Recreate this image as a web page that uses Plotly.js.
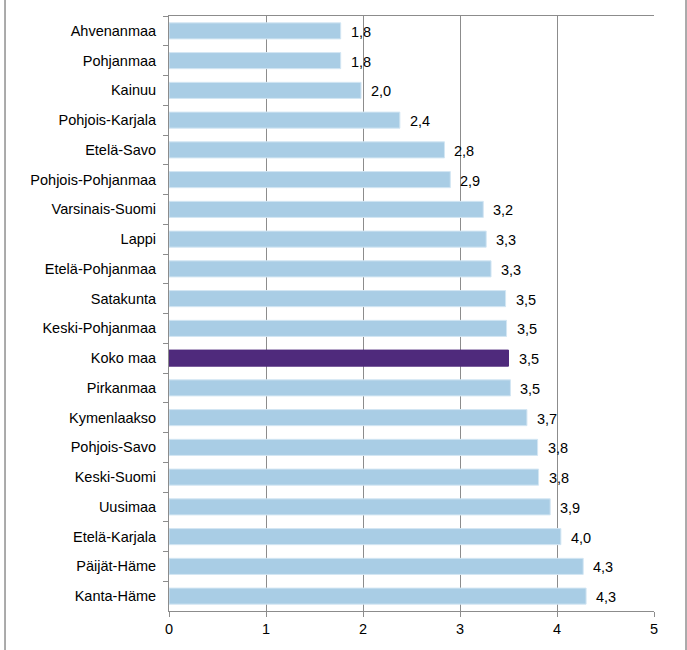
<!DOCTYPE html>
<html>
<head>
<meta charset="utf-8">
<script src="https://cdn.plot.ly/plotly-3.0.1.min.js"></script>
<style>
  html, body { margin: 0; padding: 0; background: #fff; }
  #chart { width: 687px; height: 650px; }
</style>
</head>
<body>
<div id="chart"></div>
<script>
// regions, top to bottom as in the picture
const regions = [
    'Ahvenanmaa', 'Pohjanmaa', 'Kainuu', 'Pohjois-Karjala', 'Etelä-Savo',
    'Pohjois-Pohjanmaa', 'Varsinais-Suomi', 'Lappi', 'Etelä-Pohjanmaa', 'Satakunta',
    'Keski-Pohjanmaa', 'Koko maa', 'Pirkanmaa', 'Kymenlaakso', 'Pohjois-Savo',
    'Keski-Suomi', 'Uusimaa', 'Etelä-Karjala', 'Päijät-Häme', 'Kanta-Häme'
];
const values = [
    1.77, 1.77, 1.98, 2.38, 2.84,
    2.90, 3.24, 3.27, 3.32, 3.47,
    3.48, 3.50, 3.52, 3.69, 3.80,
    3.81, 3.93, 4.04, 4.27, 4.30
];
const highlight = 'Koko maa';
const xTicks = [0, 1, 2, 3, 4, 5];

const FONT = '"Liberation Sans", Arial, sans-serif';
const BLUE = '#a9cde5';
const PURPLE = '#4f2a7c';
const GRID = '#8c8c8c';

const colors = regions.map(r => r === highlight ? PURPLE : BLUE);
const edgeColors = regions.map(r => r === highlight ? PURPLE : '#d3e6f3');

const trace = {
    type: 'bar',
    orientation: 'h',
    x: values,
    y: regions,
    marker: { color: colors, line: { color: edgeColors, width: 1 } },
    hoverinfo: 'x+y'
};

// value labels to the right of each bar, comma as decimal sign
const labels = values.map((v, i) => ({
    x: v,
    y: regions[i],
    xref: 'x',
    yref: 'y',
    text: v.toFixed(1).replace('.', ','),
    showarrow: false,
    xanchor: 'left',
    xshift: 8,
    yshift: -1,
    font: { family: FONT, size: 14.5, color: '#000' }
}));

const layout = {
    width: 687,
    height: 650,
    margin: { l: 169, r: 33, t: 16, b: 39 },
    paper_bgcolor: '#fff',
    plot_bgcolor: '#fff',
    showlegend: false,
    bargap: 0.46,
    font: { family: FONT, size: 14.5, color: '#000' },
    xaxis: {
        range: [0, 5],
        tickvals: xTicks,
        ticktext: xTicks.map(String),
        showgrid: true,
        gridcolor: GRID,
        gridwidth: 1,
        zeroline: false,
        showline: true,
        linecolor: GRID,
        linewidth: 1,
        mirror: true,
        ticks: 'outside',
        ticklen: 5,
        tickcolor: GRID,
        fixedrange: true
    },
    yaxis: {
        type: 'category',
        categoryorder: 'array',
        categoryarray: regions,
        autorange: 'reversed',
        showgrid: false,
        zeroline: false,
        showline: true,
        linecolor: GRID,
        linewidth: 1,
        ticks: 'outside',
        tickson: 'boundaries',
        ticklen: 5,
        tickcolor: GRID,
        ticklabelstandoff: 9,
        fixedrange: true
    },
    annotations: labels,
    shapes: [
        // outer chart frame, left and right edges
        { type: 'line', xref: 'paper', yref: 'paper', x0: -0.3381, x1: -0.3381, y0: -0.2, y1: 1.2,
          line: { color: '#8f8f8f', width: 1.5 } },
        { type: 'line', xref: 'paper', yref: 'paper', x0: 1.066, x1: 1.066, y0: -0.2, y1: 1.2,
          line: { color: '#8f8f8f', width: 1.5 } }
    ]
};

Plotly.newPlot('chart', [trace], layout, { displayModeBar: false, staticPlot: true });
</script>
</body>
</html>
